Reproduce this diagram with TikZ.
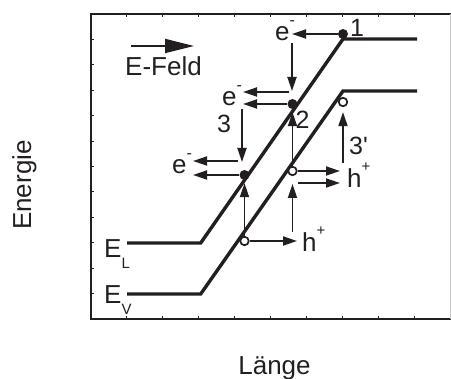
\documentclass[tikz,border=0pt]{standalone}
\usepackage{fontspec}
\setmainfont{Liberation Sans}[Ligatures=TeXOff]
\usetikzlibrary{arrows.meta}
\definecolor{ink}{RGB}{35,31,32}
\newcommand\supmin{\raisebox{15pt}{\fontsize{16}{16}\selectfont -}}
\newcommand\supplus{\raisebox{16pt}{\fontsize{15}{15}\selectfont +}}
\newcommand\subsc[1]{\raisebox{-11pt}{\fontsize{15}{15}\selectfont #1}}
\begin{document}
\begin{tikzpicture}[x=1pt,y=-1pt,
  band/.style={draw=ink,line width=3.4pt,line join=miter},
  conn/.style={draw=ink,line width=1.8pt,-{Triangle[length=14pt,width=9pt]}},
  frame/.style={draw=ink,line width=2pt},
  tick/.style={draw=ink,line width=1pt},
  dot/.style={circle,fill=ink,inner sep=0pt,minimum size=10pt},
  hole/.style={circle,draw=ink,fill=white,line width=1.7pt,inner sep=0pt,minimum size=8.5pt},
  lbl/.style={inner sep=0pt,text=ink,font=\fontsize{26}{30}\selectfont},
  num/.style={inner sep=0pt,text=ink,font=\fontsize{25}{30}\selectfont}]
\useasboundingbox (0,0) rectangle (451,379);
% frame
\draw[frame] (90,14) -- (451,14);
\draw[frame] (90,319) -- (451,319);
\draw[frame] (91,13) -- (91,320);
\draw[draw=ink!25,line width=1pt] (450.5,14) -- (450.5,319);
\foreach \k in {1,...,11} \draw[tick] (91,{14+25.42*\k}) -- +(3,0);
\foreach \k in {1,...,9} {
  \draw[tick] ({91+35.9*\k},14) -- +(0,3);
  \draw[tick] ({91+35.9*\k},319) -- +(0,-3);
}
% bands
\coordinate (L0) at (127,243); \coordinate (L1) at (200.7,243);
\coordinate (L2) at (343,39); \coordinate (L3) at (417,39);
\coordinate (V0) at (127,294); \coordinate (V1) at (200.7,294);
\coordinate (V2) at (343,91); \coordinate (V3) at (417,91);
\draw[band] (L0) -- (L1) -- (L2) -- (L3);
\draw[band] (V0) -- (V1) -- (V2) -- (V3);
% carriers
\node[dot] (d1) at (343,34) {};
\node[dot] (d2) at (292.5,104) {};
\node[dot] (d3) at (244.5,175) {};
\node[hole] (h1) at (343,102) {};
\node[hole] (h2) at (292.5,171) {};
\node[hole] (h3) at (244.5,241) {};
% labels
\node[lbl,anchor=base west] (eA) at (275,40.5) {e\supmin};
\node[lbl,anchor=base west] (eB) at (222,105.5) {e\supmin};
\node[lbl,anchor=base west] (eC) at (172,174) {e\supmin};
\node[lbl,anchor=base west] (hA) at (347,188) {h\supplus};
\node[lbl,anchor=base west] (hB) at (302,252) {h\supplus};
\node[lbl,anchor=base west] (EL) at (104,258) {E\subsc{L}};
\node[lbl,anchor=base west] (EV) at (104,304) {E\subsc{V}};
\node[lbl,anchor=base west] (ef) at (125,75.7) {E-Feld};
\node[lbl,anchor=base] (laenge) at (274.5,375) {Länge};
\node[lbl,anchor=base,rotate=90] (energie) at (31,185) {Energie};
\node[num,anchor=base] (n1) at (357,37) {1};
\node[num,anchor=base] (n2) at (302.5,129) {2};
\node[num,anchor=base] (n3) at (224,133) {3};
\node[num,anchor=base west] (n3p) at (349,155) {3'};
% field arrow
\coordinate (fa) at (131,46); \coordinate (fb) at (194,46);
\draw[draw=ink,line width=1.8pt,-{Triangle[length=29pt,width=14pt]}] (fa) -- (fb);
% transitions
\coordinate (a1) at (292,34); \draw[conn] (d1) -- (a1);
\coordinate (b1) at (292,43); \coordinate (b2) at (292,91); \draw[conn] (b1) -- (b2);
\coordinate (c1) at (289,92); \coordinate (c2) at (243,92); \draw[conn] (c1) -- (c2);
\coordinate (c3) at (243,104); \draw[conn] (d2) -- (c3);
\coordinate (p1) at (242,109); \coordinate (p2) at (242,162); \draw[conn] (p1) -- (p2);
\coordinate (q1) at (238,161); \coordinate (q2) at (193,161); \draw[conn] (q1) -- (q2);
\coordinate (q3) at (193,175); \draw[conn] (d3) -- (q3);
\draw[conn,shorten >=3pt] (h2) -- (d2);
\draw[conn,shorten >=3pt] (h3) -- (d3);
\coordinate (r1) at (297,241); \draw[conn] (h3) -- (r1);
\coordinate (s1) at (340,171); \draw[conn] (h2) -- (s1);
\coordinate (s2) at (298,183); \coordinate (s3) at (340,183); \draw[conn] (s2) -- (s3);
\coordinate (t1) at (292.5,232); \coordinate (t2) at (292.5,184); \draw[conn] (t1) -- (t2);
\coordinate (u1) at (343,163); \draw[conn,shorten >=5pt] (u1) -- (h1);
\end{tikzpicture}
\end{document}
